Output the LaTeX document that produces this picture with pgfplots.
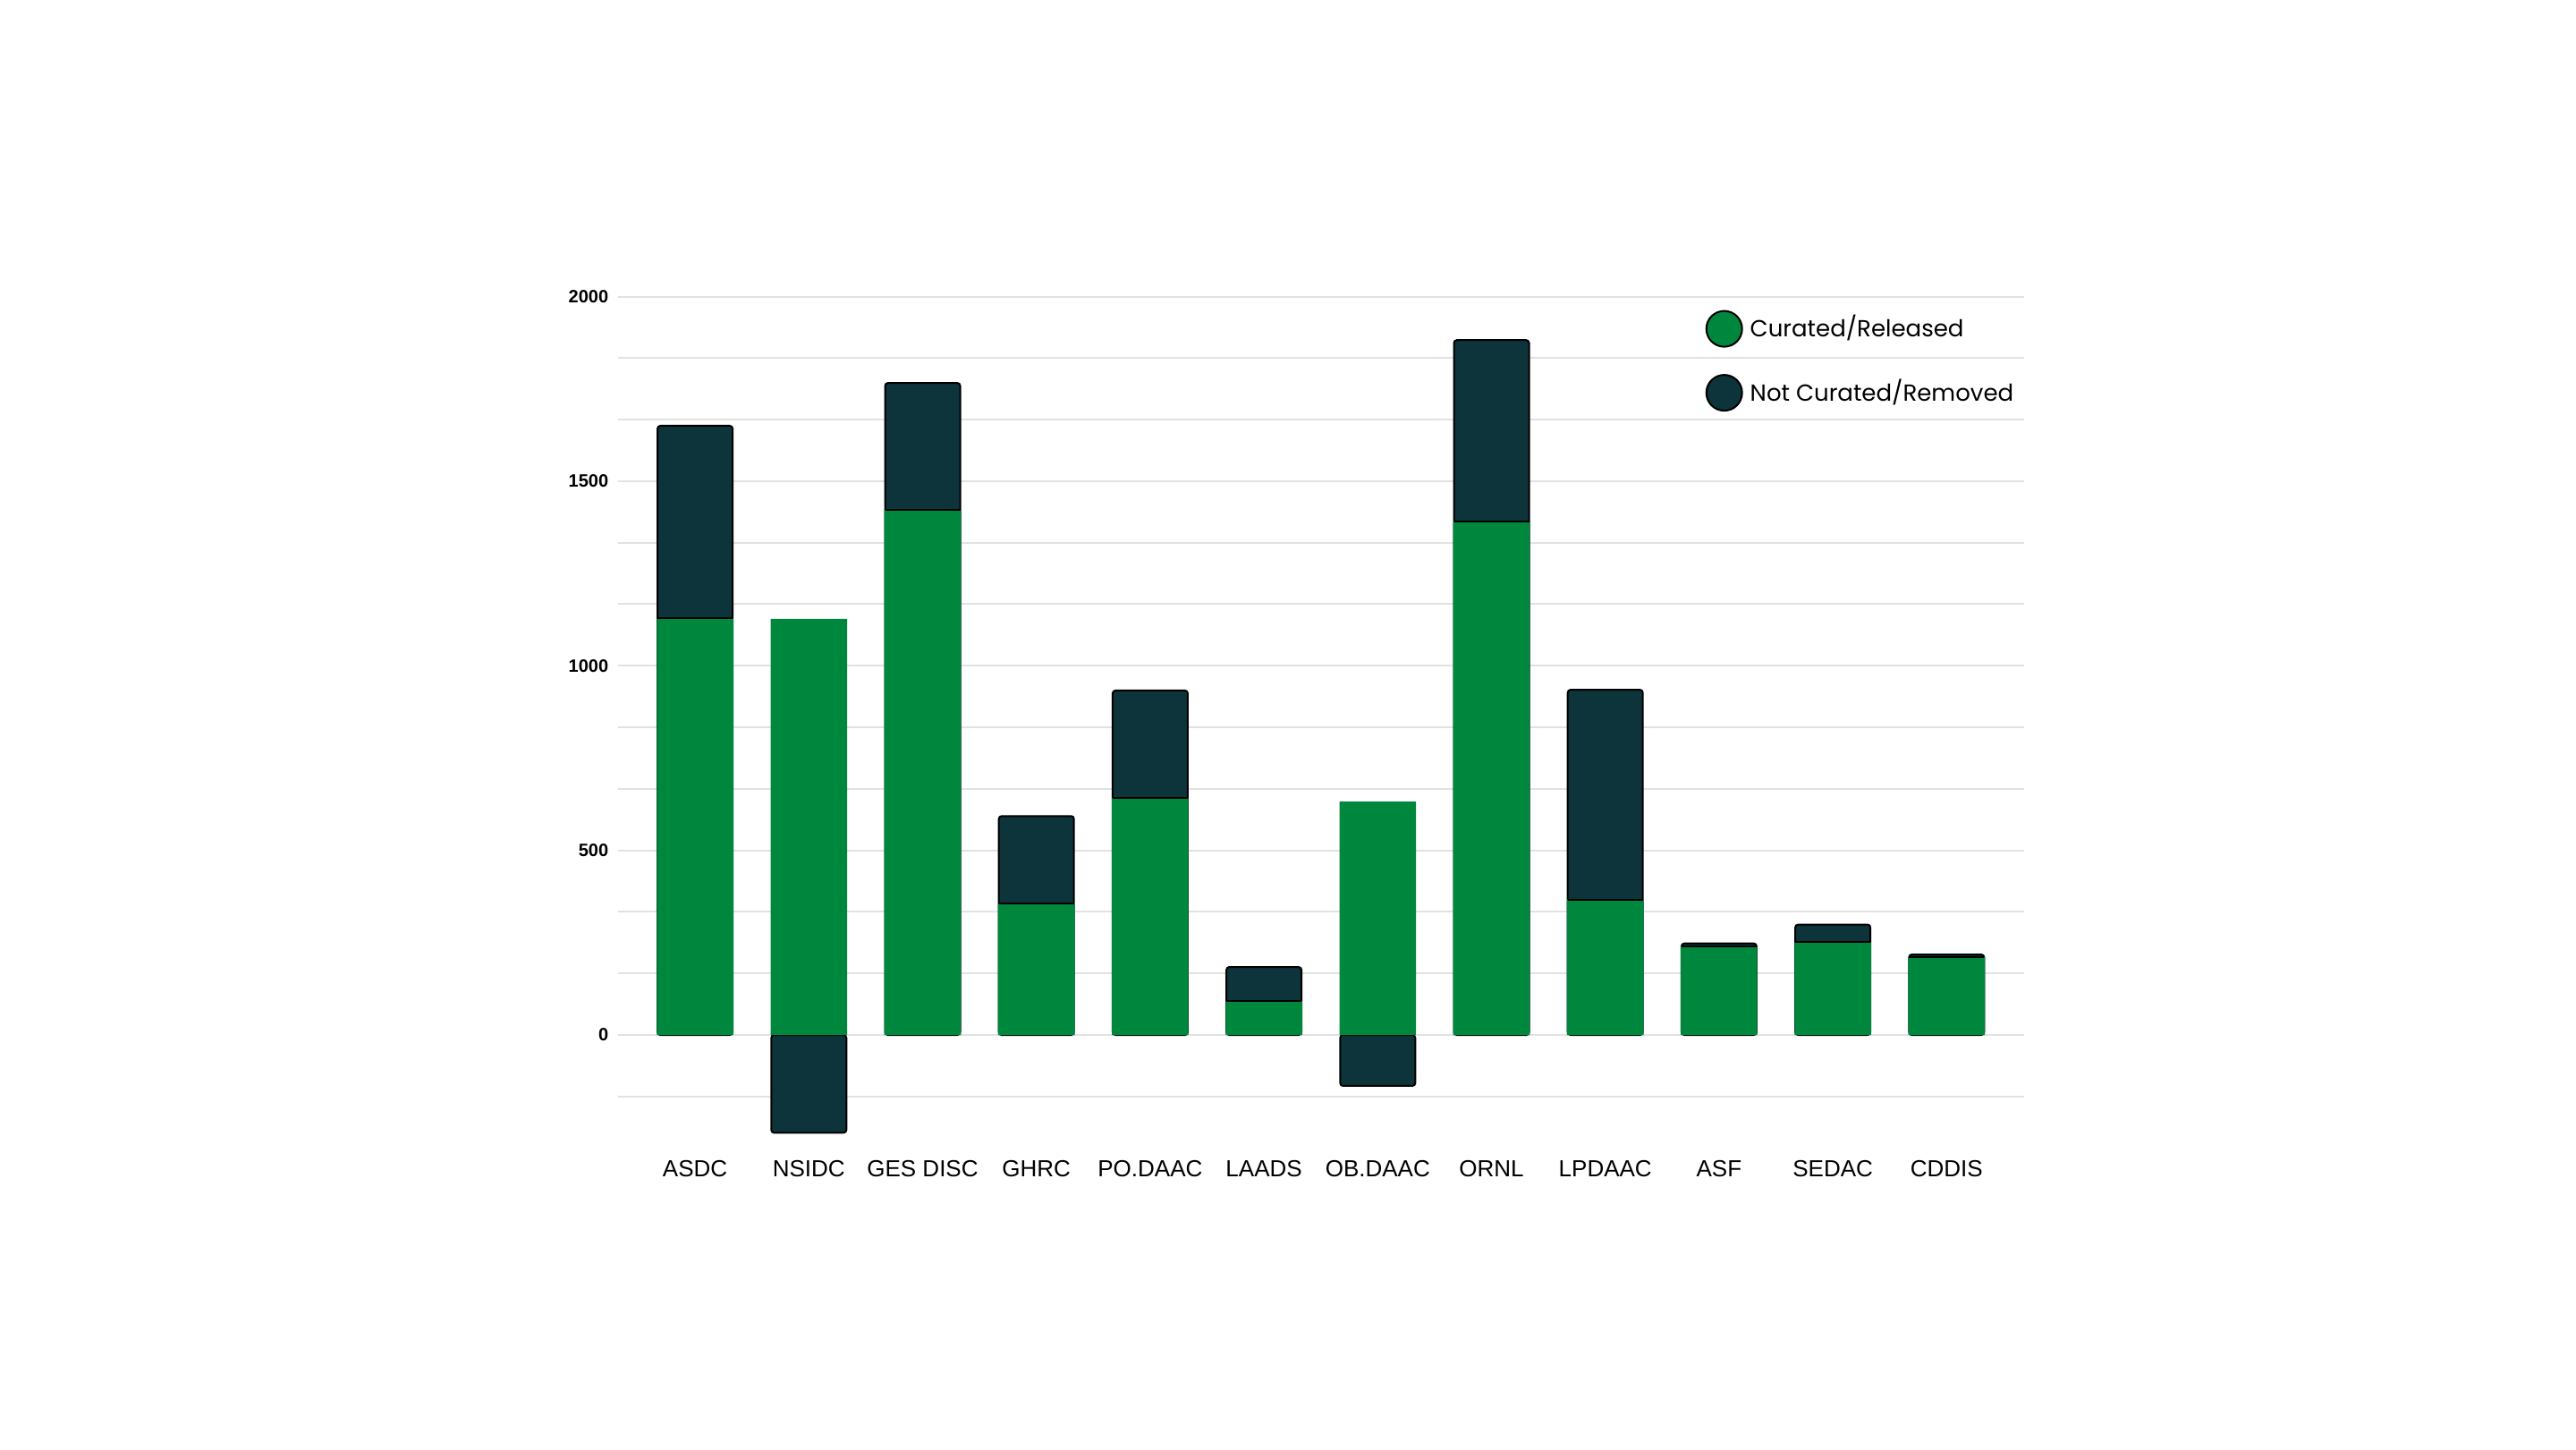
\documentclass[border=0pt]{standalone}
\usepackage{fontspec}
\setmainfont{Liberation Sans}
\newfontfamily\poppins{Poppins}
\usepackage{pgfplots}
\usepackage{pgfplotstable}
\pgfplotsset{compat=1.18}
\definecolor{cgreen}{RGB}{0,135,62}
\definecolor{cdark}{RGB}{13,51,59}
\definecolor{cgrid}{RGB}{226,226,226}

\pgfplotstableread{
i green total
0 1128 1650
1 1127 -265
2 1422 1766
3 355 593
4 642 933
5 92 184
6 632 -138
7 1391 1882
8 367 935
9 240 248
10 251 299
11 211 218
}\data

\pgfplotstableread{
i green
0 1128
2 1422
3 355
4 642
5 92
7 1391
8 367
9 240
10 251
11 211
}\tops

\begin{document}
\begin{tikzpicture}
\path[use as bounding box, fill=white] (0,0) rectangle (720pt,405pt);
\begin{axis}[
  at={(172.65pt,84.79pt)}, anchor=south west,
  scale only axis, width=393.05pt, height=237.33pt,
  xmin=-0.68, xmax=11.68, ymin=-300, ymax=2000,
  axis line style={draw=none},
  xtick={0,...,11},
  xticklabels={ASDC,NSIDC,GES DISC,GHRC,PO.DAAC,LAADS,OB.DAAC,ORNL,LPDAAC,ASF,SEDAC,CDDIS},
  xticklabel style={font=\fontsize{6.5}{8}\selectfont, anchor=center, yshift=-6.3pt},
  ytick={0,500,1000,1500,2000},
  minor ytick={-166.667,166.667,333.333,666.667,833.333,1166.667,1333.333,1666.667,1833.333},
  ymajorgrids, yminorgrids,
  major grid style={cgrid, line width=0.5pt},
  minor grid style={cgrid, line width=0.5pt},
  major tick length=0pt, minor tick length=0pt,
  yticklabel style={font=\bfseries\fontsize{5}{6}\selectfont, inner sep=0pt, xshift=-2.4pt},
  /pgf/number format/assume math mode=true,
  /pgf/number format/1000 sep={},
  scaled y ticks=false,
  extra y ticks={0}, extra y tick labels={},
  extra y tick style={grid style={black!65, line width=0.45pt}},
  legend style={at={(0.773,0.9873)}, anchor=north west, draw=none, fill=none,
    inner sep=0pt, row sep=6.25pt, font=\poppins\fontsize{6.5}{8}\selectfont,
    cells={anchor=west}},
]
\addlegendimage{legend image code/.code={\draw[draw=black,line width=0.5pt,fill=cgreen] (5pt,0pt) circle (5pt);}}
\addlegendentry{Curated/Released}
\addlegendimage{legend image code/.code={\draw[draw=black,line width=0.5pt,fill=cdark] (5pt,0pt) circle (5pt);}}
\addlegendentry{Not Curated/Removed}

\addplot[ybar, bar width=21pt, bar shift=0pt, fill=cdark, draw=black, line width=0.5pt, rounded corners=0.8pt, forget plot]
  table[x=i,y=total]{\data};
\addplot[ybar, bar width=21.4pt, bar shift=0pt, fill=cgreen, draw=none, forget plot]
  table[x=i,y=green]{\data};
\addplot[only marks, mark=-, mark size=10.5pt, mark options={draw=black, line width=0.5pt}, forget plot]
  table[x=i,y=green]{\tops};
\end{axis}
\end{tikzpicture}
\end{document}
